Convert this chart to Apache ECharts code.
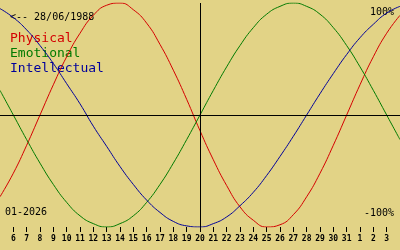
<!DOCTYPE html>
<html>
<head>
<meta charset="utf-8">
<script src="https://cdn.jsdelivr.net/npm/echarts@6/dist/echarts.min.js"></script>
<style>
html,body{margin:0;padding:0;background:#e2d386;}
#c{width:400px;height:250px;}
</style>
</head>
<body>
<div id="c"></div>
<script>
// days shown (5..35 => Jan 5 .. Feb 4)
var days = [5,6,7,8,9,10,11,12,13,14,15,16,17,18,19,20,21,22,23,24,25,26,27,28,29,30,31,32,33,34,35];
var tickDays = [6,7,8,9,10,11,12,13,14,15,16,17,18,19,20,21,22,23,24,25,26,27,28,29,30,31,32,33,34];
var physical = [-73,-52,-27,0,27,52,73,89,98,100,94,82,63,40,14,-14,-40,-63,-82,-94,-100,-98,-89,-73,-52,-27,0,27,52,73,89];
var emotional = [22,0,-22,-43,-62,-78,-90,-97,-100,-97,-90,-78,-62,-43,-22,0,22,43,62,78,90,97,100,97,90,78,62,43,22,0,-22];
var intellectual = [95,87,76,62,46,28,10,-10,-28,-46,-62,-76,-87,-95,-99,-100,-97,-91,-81,-69,-54,-37,-19,0,19,37,54,69,81,91,97];
var todayDay = 20;
var monthLabel = '01-2026';
var birthLabel = '<-- 28/06/1988';
var seriesNames = ['Physical','Emotional','Intellectual'];
var colors = ['#d40000','#007a00','#00009a'];

function pairs(vals){ return days.map(function(d,i){ return [d, vals[i]]; }); }

var chart = echarts.init(document.getElementById('c'), null, {renderer:'canvas'});
var mono = '"DejaVu Sans Mono", monospace';
chart.setOption({
  animation:false,
  backgroundColor:'#e2d386',
  grid:{left:0,right:0,top:3,bottom:23},
  xAxis:{
    type:'value', min:5, max:35,
    axisLine:{show:false, onZero:false},
    splitLine:{show:false},
    axisTick:{show:true, customValues:tickDays, length:5, lineStyle:{color:'#000',width:1}},
    axisLabel:{show:true, customValues:tickDays, margin:8, color:'#000',
      fontFamily:mono, fontSize:8, fontWeight:'bold',
      formatter:function(v){ return String(v>31 ? v-31 : v); }}
  },
  yAxis:{
    type:'value', min:-100, max:100,
    show:false, splitLine:{show:false}
  },
  series:[
    {name:seriesNames[0], type:'line', data:pairs(physical), smooth:true, showSymbol:false,
     lineStyle:{color:colors[0],width:1}, itemStyle:{color:colors[0]},
     markLine:{silent:true, symbol:'none', label:{show:false},
       lineStyle:{color:'#000',width:1,type:'solid'},
       data:[{yAxis:0},{xAxis:todayDay}]}},
    {name:seriesNames[1], type:'line', data:pairs(emotional), smooth:true, showSymbol:false,
     lineStyle:{color:colors[1],width:1}, itemStyle:{color:colors[1]}},
    {name:seriesNames[2], type:'line', data:pairs(intellectual), smooth:true, showSymbol:false,
     lineStyle:{color:colors[2],width:1}, itemStyle:{color:colors[2]}}
  ],
  graphic:[
    {type:'text', left:10, top:12, style:{text:birthLabel, fill:'#000', font:'10px '+mono}},
    {type:'text', left:10, top:32, style:{text:seriesNames[0], fill:colors[0], font:'13px '+mono}},
    {type:'text', left:10, top:47, style:{text:seriesNames[1], fill:colors[1], font:'13px '+mono}},
    {type:'text', left:10, top:62, style:{text:seriesNames[2], fill:colors[2], font:'13px '+mono}},
    {type:'text', right:6, top:7, style:{text:'100%', fill:'#000', font:'10px '+mono}},
    {type:'text', right:6, top:208, style:{text:'-100%', fill:'#000', font:'10px '+mono}},
    {type:'text', left:5, top:207, style:{text:monthLabel, fill:'#000', font:'10px '+mono}}
  ]
});
</script>
</body>
</html>
